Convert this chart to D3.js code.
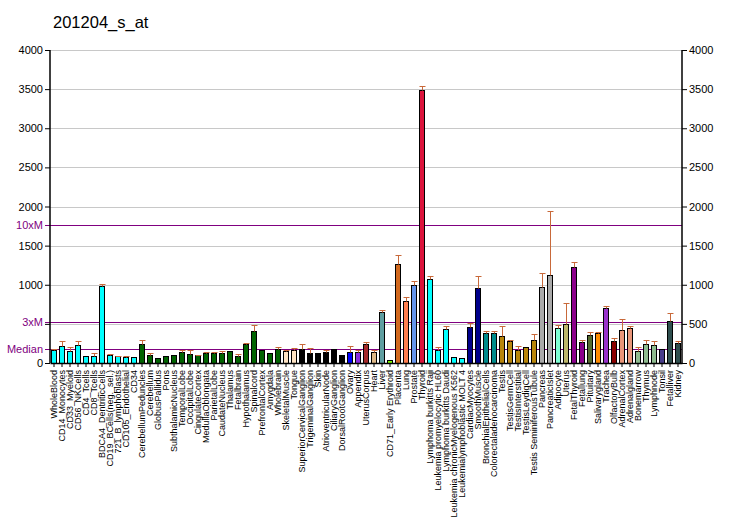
<!DOCTYPE html>
<html><head><meta charset="utf-8">
<script src="https://cdn.jsdelivr.net/npm/d3@7"></script>
<style>body{margin:0;background:#fff}svg{font-family:Arial,"Liberation Sans",sans-serif}</style>
</head><body>
<script>
const categories = ["WholeBlood","CD14_Monocytes","CD33_Myeloid","CD56_NKCells","CD4_Tcells","CD8_Tcells","BDCA4_DentriticCells","CD19_BCells(neg._sel.)","721_B_lymphoblasts","CD105_Endothelial","CD34","CerebellumPeduncles","Cerebellum","GlobusPallidus","Pons","SubthalamicNucleus","TemporalLobe","OccipitalLobe","CingulateCortex","MedullaOblongata","ParietalLobe","CaudateNucleus","Thalamus","Fetalbrain","Hypothalamus","Spinalcord","PrefrontalCortex","Amygdala","Wholebrain","SkeletalMuscle","Tongue","SuperiorCervicalGanglion","TrigeminalGanglion","Skin","AtrioventricularNode","CiliaryGanglion","DorsalRootGanglion","Ovary","Appendix","UterusCorpus","Heart","Liver","CD71_Early Erythroid","Placenta","Lung","Prostate","Thyroid","Lymphoma burkitts Raji","Leukemia promyelocytic HL60","Lymphoma burkitts Daudi","Leukemia chronicMyelogenous K562","Leukemialymphoblastic MOLT 4","CardiacMyocytes","SmoothMuscle","BronchialEpithelialCells","Colorectaladenocarcinoma","Testis","TestisGermCell","TestisInterstitial","TestisLeydigCell","Testis SeminiferousTubule","Pancreas","PancreaticIslet","Adipocyte","Uterus","FetalThyroid","Fetallung","Pituitary","Salivarygland","Trachea","OlfactoryBulb","AdrenalCortex","Adrenalgland","Bonemarrow","Thymus","Lymphnode","Tonsil","Fetalliver","Kidney"];
const values = [166,217,153,230,89,89,984,102,89,81,77,243,102,64,89,102,141,115,102,128,128,128,153,89,243,409,166,128,179,153,166,179,128,128,141,179,102,141,141,243,141,652,38,1265,792,997,3489,1074,166,434,77,64,460,958,383,383,345,281,166,204,294,971,1125,447,498,1227,268,358,383,703,281,422,447,153,243,230,179,537,255];
const errors = [175,281,200,281,92,124,1005,110,95,88,80,294,124,68,92,106,166,166,108,135,135,153,158,115,255,486,170,132,204,166,192,243,192,132,166,183,106,217,166,268,166,677,40,1380,843,1048,3540,1112,204,473,80,66,511,1112,409,409,473,290,217,208,371,1150,1943,486,767,1291,294,396,390,728,319,562,473,204,294,281,183,639,281];
const colors = ["#00FFFF","#00FFFF","#00FFFF","#00FFFF","#00FFFF","#00FFFF","#00FFFF","#00FFFF","#00FFFF","#00FFFF","#00FFFF",
"#006400","#006400","#006400","#006400","#006400","#006400","#006400","#006400","#006400","#006400","#006400","#006400","#006400","#006400","#006400","#006400","#006400","#006400",
"#FFE4C4","#FFE4C4","#000000","#000000","#000000","#000000","#000000","#000000","#0000FF","#8A2BE2","#A52A2A","#DEB887","#5F9EA0","#7FFF00","#D2691E","#FF7F50","#6495ED","#DC143C",
"#00FFFF","#00FFFF","#00FFFF","#00FFFF","#00FFFF","#00008B","#00008B","#008B8B","#008B8B","#B8860B","#B8860B","#B8860B","#B8860B","#B8860B","#A9A9A9","#A9A9A9","#7FFFD4","#BDB76B","#8B008B","#8B008B","#556B2F","#FF8C00","#9932CC","#8B0000","#E9967A","#E9967A","#8FBC8F","#8FBC8F","#8FBC8F","#483D8B","#2F4F4F","#2F4F4F"];
const ticks = [0,500,1000,1500,2000,2500,3000,3500,4000];
const leftHidden = [500];
const median = 176;
const refLines = [{label:"Median", v: median},{label:"3xM", v: median*3},{label:"10xM", v: median*10}];
const title = "201204_s_at";

const W = 732, H = 530;
const m = {left:50, right:50, top:50, bottom:167};
const svg = d3.select("body").append("svg").attr("width",W).attr("height",H);
const x = d3.scaleBand().domain(categories).range([m.left, W - m.right]).paddingInner(0.25).paddingOuter(0.125);
const y = d3.scaleLinear().domain([0,4000]).range([H - m.bottom, m.top]);
const x0 = m.left, x1 = W - m.right;
const py = v => Math.round(y(v)) + 0.5;

svg.append("text").attr("x",53).attr("y",28).attr("font-size",16.5).attr("fill","#000").text(title);

// grid
svg.append("g").selectAll("line").data(ticks.filter(t=>t>0)).join("line")
  .attr("x1",x0).attr("x2",x1).attr("y1",d=>py(d)).attr("y2",d=>py(d))
  .attr("stroke","#c8c8c8").attr("stroke-width",1);

// ref lines
svg.append("g").selectAll("line").data(refLines).join("line")
  .attr("x1",x0-5).attr("x2",x1).attr("y1",d=>py(d.v)).attr("y2",d=>py(d.v))
  .attr("stroke","#800080").attr("stroke-width",1);
svg.append("g").selectAll("text").data(refLines).join("text")
  .attr("x",43).attr("y",d=>y(d.v)).attr("dy","0.35em").attr("text-anchor","end")
  .attr("font-size",11).attr("fill","#800080").text(d=>d.label);

// bars
svg.append("g").selectAll("rect").data(categories).join("rect")
  .attr("x",d=>Math.round(x(d))+0.5).attr("width",Math.round(x.bandwidth())-1)
  .attr("y",(d,i)=>Math.round(y(values[i]))+0.5).attr("height",(d,i)=>Math.round(y(0))-Math.round(y(values[i])))
  .attr("fill",(d,i)=>colors[i]).attr("stroke","#000").attr("stroke-width",1);

// error bars
const eg = svg.append("g").attr("stroke","#C8693A").attr("stroke-width",1);
categories.forEach((c,i)=>{
  if (errors[i] <= values[i] + 5) return;
  const cx = Math.round(x(c) + x.bandwidth()/2) + 0.5;
  eg.append("line").attr("x1",cx).attr("x2",cx).attr("y1",py(values[i])).attr("y2",py(errors[i]));
  eg.append("line").attr("x1",cx-3).attr("x2",cx+3).attr("y1",py(errors[i])).attr("y2",py(errors[i]));
});

// axes
const yl = svg.append("g").attr("transform",`translate(${x0},0)`)
  .call(d3.axisLeft(y).tickValues(ticks).tickSize(5).tickPadding(2).tickFormat(d => leftHidden.includes(d) ? "" : d3.format("d")(d)));
const yr = svg.append("g").attr("transform",`translate(${x1},0)`)
  .call(d3.axisRight(y).tickValues(ticks).tickSize(5).tickPadding(2).tickFormat(d3.format("d")));
[yl,yr].forEach(g=>{
  g.select(".domain").attr("d", `M0,${y(4000)}V${y(0)}`).attr("stroke","#000").attr("stroke-width",1.5);
  g.selectAll("text").attr("font-size",11).attr("fill","#000").attr("font-family","Arial, 'Liberation Sans', sans-serif");
  g.selectAll(".tick line").attr("stroke","#000");
});
const xa = svg.append("g").attr("transform",`translate(0,${y(0)})`)
  .call(d3.axisBottom(x).tickSize(4).tickSizeOuter(0));
xa.select(".domain").attr("stroke","#000").attr("stroke-width",1.5);
xa.selectAll(".tick line").attr("stroke","#000");
xa.selectAll("text").attr("font-size",9).attr("fill","#000").attr("font-family","Arial, 'Liberation Sans', sans-serif")
  .attr("text-anchor","end").attr("transform","rotate(-90)").attr("x",-7).attr("y",0).attr("dy","0.35em");
</script>
</body></html>
